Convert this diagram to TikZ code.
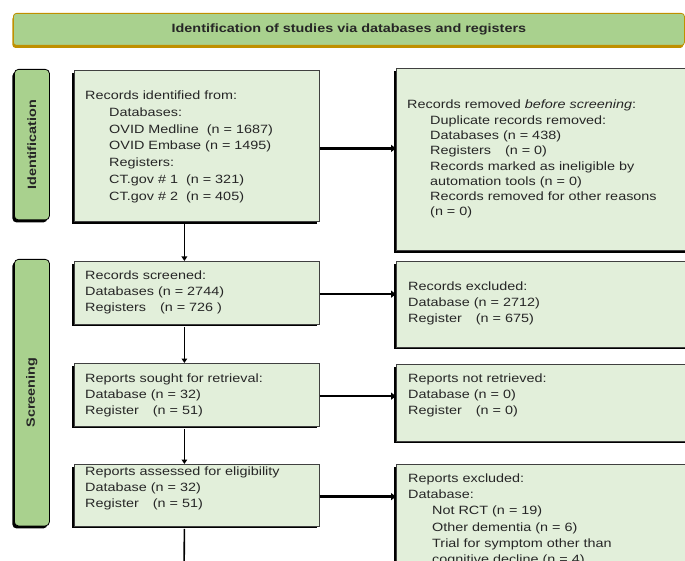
\documentclass[tikz,border=0pt]{standalone}
\usepackage{fontspec}
\setmainfont{Liberation Sans}[FakeStretch=1.2]
\usetikzlibrary{shadows,arrows.meta}
\definecolor{headgreen}{HTML}{A9D18E}
\definecolor{boxgreen}{HTML}{E2EFDA}
\definecolor{headgold}{HTML}{BF9000}
\definecolor{boxline}{HTML}{404040}

\begin{document}
\begin{tikzpicture}[x=1pt,y=-1pt,
                        box/.style={draw=boxline, line width=0.8pt, fill=boxgreen, anchor=north west, inner sep=0pt,
                            drop shadow={shadow xshift=-2pt, shadow yshift=-2.5pt, fill=black, opacity=1}},
                        phase/.style={draw=black, line width=0.8pt, fill=headgreen, rounded corners=4pt, anchor=north west, inner sep=0pt,
                            drop shadow={shadow xshift=-2pt, shadow yshift=-2.5pt, fill=black, opacity=1}},
                        phasename/.style={rotate=90, inner sep=0pt, text=black!85, font=\bfseries\fontsize{12}{14}\selectfont},
                        txt/.style={anchor=north west, inner sep=0pt, align=left, text=black!85, font=\fontsize{12}{16}\selectfont},
                        thickarrow/.style={line width=2.6pt, -{Triangle[length=5pt,width=7pt]}},
                        thinarrow/.style={line width=1.6pt, -{Triangle[length=4.5pt,width=5.5pt]}}]
                        \useasboundingbox (0,0) rectangle (685,561);
                        \clip (0,0) rectangle (685,561);

                        \node[draw=headgold, line width=0.8pt, fill=headgreen, rounded corners=3pt, anchor=north west,
                            minimum width=671pt, minimum height=32pt, text=black!85, font=\bfseries\fontsize{12}{14}\selectfont,
                            drop shadow={shadow xshift=-1pt, shadow yshift=-2.5pt, fill=headgold, opacity=1}]
                            (banner) at (13,13) {Identification of studies via databases and registers};

                        \node[phase, minimum width=35pt, minimum height=150.5pt] (idlabel) at (14,69) {};
                        \node[phasename] (idname) at (idlabel.center) {Identification};
                        \node[phase, minimum width=35pt, minimum height=266.5pt] (scrlabel) at (14,259) {};
                        \node[phasename] (scrname) at (scrlabel.center) {Screening};

                        \node[box, minimum width=245pt, minimum height=151pt] (idbox) at (74,70) {};
                        \node[box, minimum width=320pt, minimum height=182.5pt] (rembox) at (396,68) {};
                        \node[box, minimum width=245pt, minimum height=62.5pt] (scrbox) at (74,261) {};
                        \node[box, minimum width=320pt, minimum height=85.5pt] (exbox) at (396,261) {};
                        \node[box, minimum width=245pt, minimum height=62.5pt] (soughtbox) at (74,363) {};
                        \node[box, minimum width=320pt, minimum height=76.5pt] (notbox) at (396,364) {};
                        \node[box, minimum width=245pt, minimum height=61.5pt] (assbox) at (74,464) {};
                        \node[box, minimum width=320pt, minimum height=160pt] (repbox) at (396,464) {};

                        \node[txt, font=\fontsize{12}{16.7}\selectfont] (idtxt) at (85,91) {Records identified from:\\
                            \hspace*{24pt}Databases:\\
                            \hspace*{24pt}OVID Medline \ (n = 1687)\\
                            \hspace*{24pt}OVID Embase (n = 1495)\\
                            \hspace*{24pt}Registers:\\
                            \hspace*{24pt}CT.gov \# 1 \ (n = 321)\\
                            \hspace*{24pt}CT.gov \# 2 \ (n = 405)};
                        \node[txt, font=\fontsize{12}{15.3}\selectfont] (remtxt) at (407,100) {Records removed \textit{before screening}:\\
                            \hspace*{23pt}Duplicate records removed:\\
                            \hspace*{23pt}Databases (n = 438)\\
                            \hspace*{23pt}Registers\hspace{10pt} (n = 0)\\
                            \hspace*{23pt}Records marked as ineligible by\\
                            \hspace*{23pt}automation tools (n = 0)\\
                            \hspace*{23pt}Records removed for other reasons\\
                            \hspace*{23pt}(n = 0)};
                        \node[txt] (scrtxt) at (85,270.5) {Records screened:\\
                            Databases (n = 2744)\\
                            Registers\hspace{10pt} (n = 726 )};
                        \node[txt] (extxt) at (408,281.5) {Records excluded:\\
                            Database (n = 2712)\\
                            Register\hspace{10pt} (n = 675)};
                        \node[txt] (soughttxt) at (85,373.5) {Reports sought for retrieval:\\
                            Database (n = 32)\\
                            Register\hspace{10pt} (n = 51)};
                        \node[txt] (nottxt) at (408,373.5) {Reports not retrieved:\\
                            Database (n = 0)\\
                            Register\hspace{10pt} (n = 0)};
                        \node[txt] (asstxt) at (85,466.5) {Reports assessed for eligibility\\
                            Database (n = 32)\\
                            Register\hspace{10pt} (n = 51)};
                        \node[txt, font=\fontsize{12}{16.3}\selectfont] (reptxt) at (408,473.5) {Reports excluded:\\
                            Database:\\
                            \hspace*{24pt}Not RCT (n = 19)\\
                            \hspace*{24pt}Other dementia (n = 6)\\
                            \hspace*{24pt}Trial for symptom other than\\
                            \hspace*{24pt}cognitive decline (n = 4)};

                        \draw[thickarrow] ([yshift=-2.5pt]idbox.east) -- ([yshift=-2.5pt]idbox.east -| rembox.west);
                        \draw[thickarrow] ([yshift=-1.5pt]scrbox.east) -- ([yshift=-1.5pt]scrbox.east -| exbox.west);
                        \draw[thickarrow] ([yshift=-1.5pt]soughtbox.east) -- ([yshift=-1.5pt]soughtbox.east -| notbox.west);
                        \draw[thickarrow] ([yshift=-1.5pt]assbox.east) -- ([yshift=-1.5pt]assbox.east -| repbox.west);

                        \coordinate (belowass) at (184,580);
                        \draw[thinarrow] ([xshift=-12.5pt,yshift=-2.5pt]idbox.south) -- ([xshift=-12.5pt]scrbox.north);
                        \draw[thinarrow] ([xshift=-12.5pt,yshift=-2.5pt]scrbox.south) -- ([xshift=-12.5pt]soughtbox.north);
                        \draw[thinarrow] ([xshift=-12.5pt,yshift=-2.5pt]soughtbox.south) -- ([xshift=-12.5pt]assbox.north);
                        \draw[line width=1.6pt] ([xshift=-12.5pt,yshift=-2.5pt]assbox.south) -- (belowass);
                    \end{tikzpicture}
\end{document}
